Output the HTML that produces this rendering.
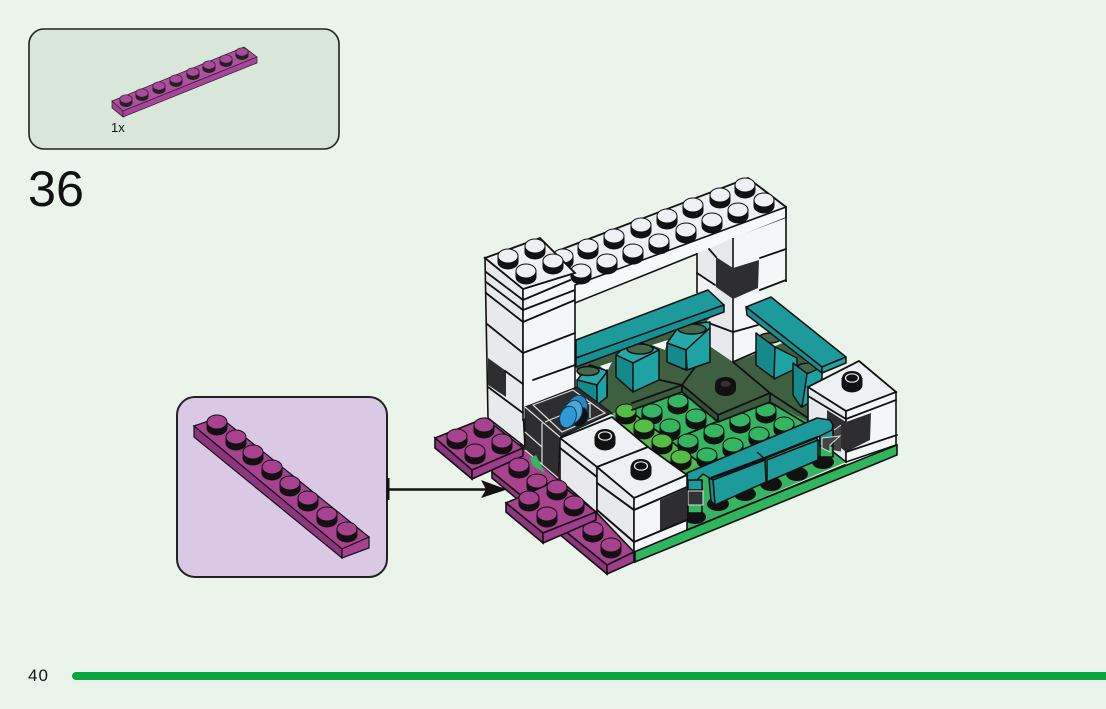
<!DOCTYPE html>
<html><head><meta charset="utf-8"><style>
html,body{margin:0;padding:0;background:#eaf4eb;width:1106px;height:709px;overflow:hidden}
svg{display:block}
.l{fill:none;stroke:#111;stroke-width:1.8;stroke-linecap:round}
.g{fill:none;stroke:#ddd;stroke-width:1.2}
text{font-family:"Liberation Sans",sans-serif;fill:#111}
</style></head><body>
<svg width="1106" height="709" viewBox="0 0 1106 709" xmlns="http://www.w3.org/2000/svg">
<defs>
<g id="w"><path d="M-10.500 0v6a10.500 7.500 0 0 0 21 0v-6z" fill="#111"/><ellipse rx="10" ry="7" fill="#eef1f3" stroke="#111"/></g>
<g id="p"><path d="M-10.500 0v6a10.500 7.500 0 0 0 21 0v-6z" fill="#111"/><ellipse rx="10" ry="7" fill="#a8428f" stroke="#111"/></g>
<g id="t"><path d="M-6.500 0v3.500a6.500 4.500 0 0 0 13 0v-3.500z" fill="#222"/><ellipse rx="6.200" ry="4.200" fill="#ab4a9c" stroke="#222" stroke-width=".7"/></g>
<g id="m"><path d="M-10.500 0v6a10.500 7.500 0 0 0 21 0v-6z" fill="#111"/><ellipse rx="10" ry="7" fill="#35b561" stroke="#111"/></g>
<g id="y"><path d="M-10.500 0v6a10.500 7.500 0 0 0 21 0v-6z" fill="#111"/><ellipse rx="10" ry="7" fill="#55bd45" stroke="#111"/></g>
<g id="h"><path d="M-10.500 0v7a10.500 7.500 0 0 0 21 0v-7z" fill="#111"/><ellipse rx="10" ry="7" fill="#111"/><ellipse rx="6.500" ry="4.200" fill="none" stroke="#eee" stroke-width="1.200"/></g>
</defs>

<!-- top parts box -->
<rect x="29" y="29" width="310" height="120" rx="15" fill="#d9e6da" stroke="#222" stroke-width="1.600"/>
<path d="M112 101L244 47L257 57L123 111Z" fill="#b04fa0" stroke="#222" stroke-width=".7"/>
<path d="M112 101L123 111V117L112 108Z" fill="#a2438f" stroke="#222" stroke-width=".7"/>
<path d="M123 111L257 57V63L123 117Z" fill="#a8459a" stroke="#222" stroke-width=".7"/>
<use href="#t" x="126" y="99"/><use href="#t" x="142" y="93"/><use href="#t" x="159" y="86"/><use href="#t" x="176" y="79"/><use href="#t" x="193" y="72"/><use href="#t" x="209" y="65"/><use href="#t" x="226" y="59"/><use href="#t" x="242" y="52"/>
<text x="111" y="132" font-size="13">1x</text>
<text x="28" y="206" font-size="50" textLength="56" lengthAdjust="spacingAndGlyphs">36</text>

<!-- callout -->
<rect x="177" y="397" width="210" height="180" rx="18" fill="#d9c9e4" stroke="#222" stroke-width="2"/>
<path d="M194 426L220 417L369 537L342 549Z" fill="#a8428f" stroke="#111" stroke-width="1.200"/>
<path d="M194 426L342 549V558L194 437Z" fill="#8f357e" stroke="#111" stroke-width="1.200"/>
<path d="M342 549L369 537V548L342 558Z" fill="#a8428f" stroke="#111" stroke-width="1.200"/>
<use href="#p" x="217" y="422"/><use href="#p" x="236" y="437"/><use href="#p" x="253" y="452"/><use href="#p" x="272" y="467"/><use href="#p" x="290" y="483"/><use href="#p" x="308" y="498"/><use href="#p" x="327" y="514"/><use href="#p" x="347" y="529"/>

<!-- arrow -->
<path d="M388 478V500" stroke="#111" stroke-width="3"/>
<path d="M388 489.500H490" stroke="#111" stroke-width="2.500"/>
<path d="M481 480L507 489.500L481 498L486 489.500Z" fill="#111"/>

<!-- long purple plate -->
<path d="M492 472L500 450L540 440L634 552L607 565Z" fill="#a8428f" stroke="#111" stroke-width="1.600"/>
<path d="M492 472L607 565V574L492 478Z" fill="#8f357e" stroke="#111" stroke-width="1.600"/>
<path d="M607 565L634 552V562L607 574Z" fill="#a03c8c" stroke="#111" stroke-width="1.600"/>
<!-- plate A -->
<path d="M435 438L485 418L523 448L472 470Z" fill="#a8428f" stroke="#111" stroke-width="1.600"/>
<path d="M435 438L472 470V479L435 448Z" fill="#8f357e" stroke="#111" stroke-width="1.600"/>
<path d="M472 470L523 448V456L472 479Z" fill="#a03c8c" stroke="#111" stroke-width="1.600"/>
<use href="#p" x="484" y="425"/><use href="#p" x="457" y="436"/><use href="#p" x="502" y="441"/><use href="#p" x="475" y="451"/>
<use href="#p" x="519" y="465"/><use href="#p" x="537" y="481"/>
<use href="#p" x="593" y="529"/><use href="#p" x="611" y="545"/>

<!-- dark floor -->
<path d="M576 368L600 345L720 315L735 362L790 340L830 395L810 425L718 422L682 392L632 412L612 415L590 400Z" fill="#3e5f40"/>
<!-- light gaps behind benches -->
<path d="M600 366L612 362L607 372ZM652 345L668 340L665 350Z" fill="#f4f6f8"/>
<!-- base plate side -->
<path d="M635 550L897 445V455L635 562Z" fill="#2fb55c" stroke="#111" stroke-width="1.600"/>
<!-- green studded top -->
<path d="M613 413L632 410L682 392L718 422L770 402L815 425L846 462L635 552L620 470Z" fill="#35b561"/>
<path d="M613 413L633 412L700 463L675 478L640 450Z" fill="#55bd45"/>
<path class="l" d="M633 413L700 463M673 440L716 422" stroke-width="1.200"/>
<use href="#y" x="626" y="411"/><use href="#m" x="652" y="411"/><use href="#m" x="678" y="401"/><use href="#y" x="644" y="426"/><use href="#m" x="670" y="426"/><use href="#m" x="696" y="416"/><use href="#y" x="662" y="441"/><use href="#m" x="688" y="441"/><use href="#y" x="681" y="457"/><use href="#m" x="714" y="431"/><use href="#m" x="740" y="420"/><use href="#m" x="766" y="410"/><use href="#m" x="784" y="424"/><use href="#m" x="759" y="434"/><use href="#m" x="733" y="445"/><use href="#m" x="707" y="455"/>

<!-- raised dark tile edges -->
<path d="M682 385L718 415V422L682 392Z" fill="#345238"/>
<path d="M718 415L770 393V402L718 422Z" fill="#3a5a3d"/>
<path d="M632 403L682 385V392L632 410Z" fill="#3a5a3d"/>
<path class="l" d="M632 403L682 385L718 415L770 393L733 362M632 410L682 392L718 422L770 402L810 426M718 415V422M682 385V392M770 393V402M770 393L808 418"/>
<path class="l" d="M607 370L607 396M660 380L682 385M710 347L682 385"  stroke-width="0"/>
<path d="M715 384v5a10.500 7 0 0 0 21 0v-5a10.500 7 0 0 0-21 0z" fill="#111"/>
<ellipse cx="725.500" cy="384" rx="5" ry="3" fill="#333"/>

<!-- tower left -->
<path d="M485 258L523 289V410L525 447L488 418Z" fill="#e7e9ec" stroke="#111" stroke-width="1.600"/>
<path d="M523 289L575 273V395L523 420Z" fill="#f4f6f8" stroke="#111" stroke-width="1.600"/>
<path d="M488 358L506 371V397L488 385Z" fill="#2e2e30"/>
<path class="l" d="M486 272L523 300M486 282L523 310M486 293L523 322M487 324L523 353M488 387L523 413M505 371L523 384"/>
<path class="l" d="M523 300L575 278M523 310L575 290M523 322L575 300M523 353L575 333M533 380L575 365"/>

<!-- top beam -->
<path d="M560 250L748 178L786 207L575 291Z" fill="#eef1f3"/>
<path d="M575 285L786 207V218L575 303Z" fill="#f6f8f9" stroke="#111" stroke-width="1.600"/>
<path class="l" d="M560 250L748 178L786 207"/>
<!-- right pillar -->
<path d="M697 252L733 238L786 218V280L760 290L772 297L747 307L760 325L758 350L733 362L708 345L706 322L724 305L697 290Z" fill="#f4f6f8"/>
<path d="M697 253L709 249L733 238V362L711 345L706 322L724 305L697 290Z" fill="#e6e8eb"/>
<path d="M697 253V273L715 285V300L697 290Z" fill="#f0f2f4"/>
<path d="M733 238V362M697 253V293M786 207V282" stroke="#111" stroke-width="1.600" fill="none"/>
<path d="M716 257L733 268V299L716 287Z" fill="#2e2e30"/><path d="M733 268L759 260L758 288L733 299Z" fill="#2e2e30"/>
<path class="l" d="M760 258L786 249M760 290L786 280M697 273L715 285M709 249L716 257M706 322L733 332L758 325M733 362L756 352"/>
<use href="#w" x="667" y="216"/><use href="#w" x="693" y="205"/><use href="#w" x="720" y="195"/><use href="#w" x="745" y="185"/><use href="#w" x="686" y="230"/><use href="#w" x="712" y="220"/><use href="#w" x="738" y="210"/><use href="#w" x="764" y="200"/>
<use href="#w" x="563" y="256"/><use href="#w" x="588" y="246"/><use href="#w" x="614" y="236"/><use href="#w" x="641" y="225"/><use href="#w" x="581" y="271"/><use href="#w" x="607" y="261"/><use href="#w" x="633" y="251"/><use href="#w" x="659" y="241"/>
<!-- tower top tile -->
<path d="M485 258L540 238L575 273L523 289Z" fill="#eef1f3" stroke="#111" stroke-width="1.800"/>
<use href="#w" x="508" y="256"/><use href="#w" x="535" y="246"/><use href="#w" x="553" y="261"/><use href="#w" x="526" y="271"/>

<!-- back teal bricks and benches -->
<g stroke="#111" stroke-width="1.500" stroke-linejoin="round">
<path d="M667 343L680 325L710 322V328L686 350Z" fill="#25aaa9"/>
<ellipse cx="692" cy="329" rx="14" ry="5" fill="#45684a"/>
<path d="M667 343L686 350V370L667 362Z" fill="#148a8d"/>
<path d="M686 350L710 328V362L687 370Z" fill="#1fa2a3"/>
<path d="M616 355L632 340L653 347L659 350L633 363Z" fill="#25aaa9"/>
<ellipse cx="640" cy="349" rx="13" ry="5" fill="#45684a"/>
<path d="M616 355L633 363V392L616 377Z" fill="#148a8d"/>
<path d="M633 363L659 350V380L633 392Z" fill="#1fa2a3"/>
<path d="M577 380L590 365L605 370L607 372L597 385Z" fill="#25aaa9"/>
<ellipse cx="588" cy="371" rx="11" ry="4.500" fill="#45684a"/>
<path d="M577 380L597 385V405L577 395Z" fill="#148a8d"/>
<path d="M597 385L607 372V397L597 405Z" fill="#1fa2a3"/>
<path d="M576 340L708 290L724 305L576 358Z" fill="#1c9a9c"/>
<path d="M576 358L724 305V312L576 367Z" fill="#159094"/>
<ellipse cx="770" cy="338" rx="11" ry="5" fill="#45684a"/>
<path d="M756 333L775 347V379L756 365Z" fill="#148a8d"/>
<path d="M775 347L797 358V368L774 379Z" fill="#1fa2a3"/>
<ellipse cx="808" cy="368" rx="11" ry="5" fill="#45684a"/>
<path d="M793 363L813 378L801 407L793 395Z" fill="#148a8d"/>
<path d="M807 374L822 367V395L802 407Z" fill="#1fa2a3"/>
<path d="M746 307L771 297L846 357L822 367Z" fill="#1c9a9c"/>
<path d="M746 307L822 367V373L747 315Z" fill="#159094"/>
<path d="M822 367L846 357V363L822 373Z" fill="#1fa2a3"/>
</g>

<!-- right white block -->
<path d="M808 387L846 411V462L808 432Z" fill="#e7e9ec" stroke="#111" stroke-width="1.600"/>
<path d="M846 411L896 392V445L846 462Z" fill="#f4f6f8" stroke="#111" stroke-width="1.600"/>
<path d="M827 410L846 422L871 413L870 440L846 452L827 437Z" fill="#2e2e30"/>
<path d="M808 387L859 361L896 392L846 411Z" fill="#eef1f3" stroke="#111" stroke-width="1.800"/>
<path class="l" d="M846 419L896 400M846 452L897 435M808 396L846 419"/>
<path d="M841 425L823 438V449L841 452" fill="#444" stroke="#ddd" stroke-width="1"/>
<use href="#h" x="852" y="378"/>

<!-- front plate line -->
<path d="M687 530L845 465" class="l"/>

<!-- studs under bench -->
<g fill="#111"><ellipse cx="695" cy="517" rx="11" ry="7"/><ellipse cx="718" cy="504" rx="11" ry="7"/><ellipse cx="745" cy="494" rx="11" ry="7"/><ellipse cx="771" cy="484" rx="11" ry="7"/><ellipse cx="797" cy="474" rx="11" ry="7"/><ellipse cx="823" cy="462" rx="11" ry="7"/></g>

<!-- bench fence -->
<g stroke="#111" stroke-width="1.500" stroke-linejoin="round">
<path d="M688 480H702V513H688Z" fill="#35b561"/>
<path d="M688 480H702V490H688Z" fill="#1c9a9c"/>
<path d="M820 430H833V457H820Z" fill="#35b561"/>
<path d="M820 430H833V446H820Z" fill="#1c9a9c"/>
<path d="M687 473L817 418L830 420L833 425L832 430L818 437L713 480L703 474L697 480H687Z" fill="#1c9a9c"/>
<path d="M713 480L765 460L766 482L715 505Z" fill="#1c9a9c"/>
<path d="M767 460L818 440V460L767 482Z" fill="#1c9a9c"/>
<path d="M709 478L713 480L715 505L711 501Z" fill="#159094"/>
</g>
<path d="M711 478L765 458L818 437" stroke="#111" stroke-width="2.500" fill="none"/>
<path d="M757 452L766 460" stroke="#111" stroke-width="1.500"/>
<path d="M688 491H703V505H688Z" fill="#333" stroke="#ddd" stroke-width="1"/>
<path d="M822 438L840 436L830 445V452L822 448Z" fill="#444" stroke="#ddd" stroke-width="1"/>

<!-- front white blocks -->
<path d="M560 435L597 467V513L560 480Z" fill="#e7e9ec" stroke="#111" stroke-width="1.600"/>
<path d="M597 467L634 498V552L597 513Z" fill="#e7e9ec" stroke="#111" stroke-width="1.600"/>
<path d="M634 498L687 475V530L634 552Z" fill="#f4f6f8" stroke="#111" stroke-width="1.600"/>
<path d="M660 500L687 488V520L660 532Z" fill="#2e2e30"/>
<path d="M560 438L612 417L648 447L597 467Z" fill="#eef1f3" stroke="#111" stroke-width="1.800"/>
<path d="M597 467L648 447L687 475L634 498Z" fill="#eef1f3" stroke="#111" stroke-width="1.800"/>
<path d="M560 448L597 477M597 483L634 510L687 487M597 510L634 542L687 520" stroke="#111" stroke-width="2" fill="none"/>
<use href="#h" x="605" y="436"/><use href="#h" x="641" y="466"/>

<!-- window -->
<path d="M525 407L577 387L612 413L560 437L558 480L525 450Z" fill="#2e2e30" stroke="#111" stroke-width="1"/>
<path class="g" d="M533 405L573 390L605 413L562 432ZM545 422L590 403M590 403V418M525 407L560 437M542 423V465M525 450L558 478M525 432L542 447"/>
<g stroke="#0c3b5b" stroke-width="1"><ellipse cx="577" cy="408" rx="10" ry="13" fill="#2d86c2" transform="rotate(20 577 408)"/><ellipse cx="580" cy="417" rx="8" ry="10" fill="#111" transform="rotate(20 580 417)"/><ellipse cx="573" cy="412" rx="9" ry="12" fill="#4ba6da" transform="rotate(20 573 412)"/><ellipse cx="568" cy="417" rx="8" ry="11" fill="#2d9ad6" transform="rotate(20 568 417)"/></g>
<path d="M530 458L536 455L545 473L533 466Z" fill="#35b561"/>

<!-- plate B -->
<path d="M506 503L556 481L596 512L543 533Z" fill="#a8428f" stroke="#111" stroke-width="1.600"/>
<path d="M506 503L543 533V543L506 512Z" fill="#8f357e" stroke="#111" stroke-width="1.600"/>
<path d="M543 533L596 512V520L543 543Z" fill="#a03c8c" stroke="#111" stroke-width="1.600"/>
<use href="#p" x="557" y="487"/><use href="#p" x="529" y="498"/><use href="#p" x="574" y="503"/><use href="#p" x="547" y="514"/>

<!-- footer -->
<text x="28" y="681" font-size="17" letter-spacing="1">40</text>
<rect x="72" y="672" width="1050" height="8" rx="4" fill="#0ba540"/>
</svg>
</body></html>
